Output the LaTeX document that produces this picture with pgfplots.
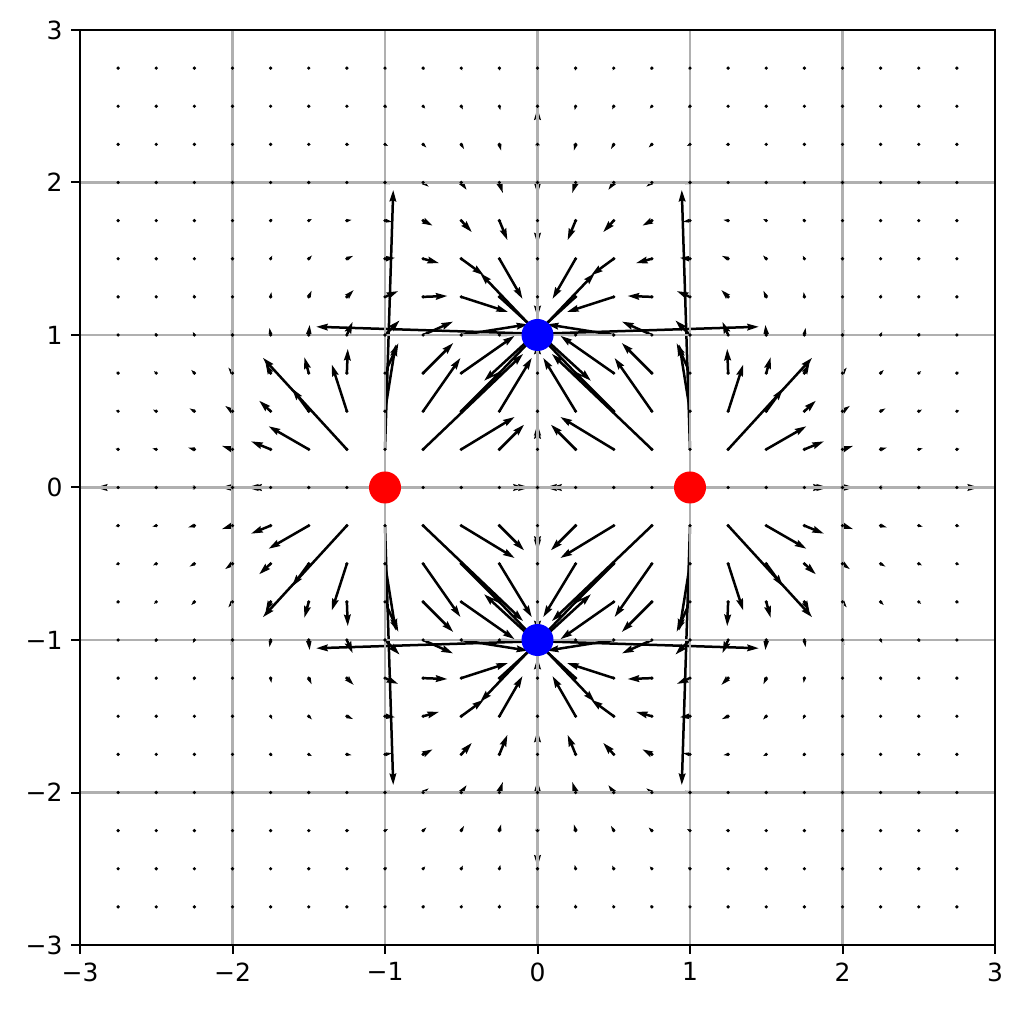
\documentclass[border=0pt]{standalone}
\usepackage{fontspec}
\setmainfont{DejaVu Sans}
\usepackage{pgfplots}
\usepackage{pgfplotstable}
\pgfplotsset{compat=1.18}
\usetikzlibrary{arrows.meta}
\definecolor{gridgray}{HTML}{B0B0B0}

\pgfplotstableread{
x y u v
-2.75 2.75 0.002 0.002
-2.5 2.75 0.003 0.002
-2.25 2.75 0.004 0.002
-2 2.75 0.005 0.001
-1.75 2.75 0.006 0
-1.5 2.75 0.008 -0.002
-1.25 2.75 0.009 -0.005
-1 2.75 0.009 -0.008
-0.75 2.75 0.009 -0.012
-0.5 2.75 0.007 -0.015
-0.25 2.75 0.004 -0.018
0 2.75 0 -0.019
0.25 2.75 -0.004 -0.018
0.5 2.75 -0.007 -0.015
0.75 2.75 -0.009 -0.012
1 2.75 -0.009 -0.008
1.25 2.75 -0.009 -0.005
1.5 2.75 -0.008 -0.002
1.75 2.75 -0.006 0
2 2.75 -0.005 0.001
2.25 2.75 -0.004 0.002
2.5 2.75 -0.003 0.002
2.75 2.75 -0.002 0.002
-2.75 2.5 0.003 0.002
-2.5 2.5 0.003 0.003
-2.25 2.5 0.004 0.003
-2 2.5 0.006 0.002
-1.75 2.5 0.008 0.001
-1.5 2.5 0.010 -0.001
-1.25 2.5 0.012 -0.005
-1 2.5 0.014 -0.010
-0.75 2.5 0.014 -0.016
-0.5 2.5 0.011 -0.022
-0.25 2.5 0.007 -0.027
0 2.5 0 -0.028
0.25 2.5 -0.007 -0.027
0.5 2.5 -0.011 -0.022
0.75 2.5 -0.014 -0.016
1 2.5 -0.014 -0.010
1.25 2.5 -0.012 -0.005
1.5 2.5 -0.010 -0.001
1.75 2.5 -0.008 0.001
2 2.5 -0.006 0.002
2.25 2.5 -0.004 0.003
2.5 2.5 -0.003 0.003
2.75 2.5 -0.003 0.002
-2.75 2.25 0.002 0.004
-2.5 2.25 0.003 0.004
-2.25 2.25 0.005 0.005
-2 2.25 0.007 0.004
-1.75 2.25 0.010 0.003
-1.5 2.25 0.013 0
-1.25 2.25 0.017 -0.004
-1 2.25 0.021 -0.011
-0.75 2.25 0.022 -0.021
-0.5 2.25 0.019 -0.032
-0.25 2.25 0.012 -0.042
0 2.25 0 -0.046
0.25 2.25 -0.012 -0.042
0.5 2.25 -0.019 -0.032
0.75 2.25 -0.022 -0.021
1 2.25 -0.021 -0.011
1.25 2.25 -0.017 -0.004
1.5 2.25 -0.013 0
1.75 2.25 -0.010 0.003
2 2.25 -0.007 0.004
2.25 2.25 -0.005 0.005
2.5 2.25 -0.003 0.004
2.75 2.25 -0.002 0.004
-2.75 2 0.001 0.005
-2.5 2 0.002 0.006
-2.25 2 0.004 0.007
-2 2 0.007 0.007
-1.75 2 0.011 0.007
-1.5 2 0.017 0.004
-1.25 2 0.024 -0.001
-1 2 0.031 -0.012
-0.75 2 0.037 -0.028
-0.5 2 0.036 -0.049
-0.25 2 0.023 -0.070
0 2 0 -0.080
0.25 2 -0.023 -0.070
0.5 2 -0.036 -0.049
0.75 2 -0.037 -0.028
1 2 -0.031 -0.012
1.25 2 -0.024 -0.001
1.5 2 -0.017 0.004
1.75 2 -0.011 0.007
2 2 -0.007 0.007
2.25 2 -0.004 0.007
2.5 2 -0.002 0.006
2.75 2 -0.001 0.005
-2.75 1.75 0 0.006
-2.5 1.75 0.001 0.008
-2.25 1.75 0.003 0.010
-2 1.75 0.007 0.011
-1.75 1.75 0.012 0.012
-1.5 1.75 0.021 0.011
-1.25 1.75 0.032 0.005
-1 1.75 0.047 -0.008
-0.75 1.75 0.062 -0.033
-0.5 1.75 0.070 -0.076
-0.25 1.75 0.053 -0.129
0 1.75 0 -0.157
0.25 1.75 -0.053 -0.129
0.5 1.75 -0.070 -0.076
0.75 1.75 -0.062 -0.033
1 1.75 -0.047 -0.008
1.25 1.75 -0.032 0.005
1.5 1.75 -0.021 0.011
1.75 1.75 -0.012 0.012
2 1.75 -0.007 0.011
2.25 1.75 -0.003 0.010
2.5 1.75 -0.001 0.008
2.75 1.75 0 0.006
-2.75 1.5 -0.002 0.008
-2.5 1.5 -0.001 0.010
-2.25 1.5 0 0.013
-2 1.5 0.004 0.017
-1.75 1.5 0.011 0.021
-1.5 1.5 0.022 0.022
-1.25 1.5 0.041 0.019
-1 1.5 0.067 0.006
-0.75 1.5 0.105 -0.029
-0.5 1.5 0.149 -0.109
-0.25 1.5 0.152 -0.264
0 1.5 0 -0.385
0.25 1.5 -0.152 -0.264
0.5 1.5 -0.149 -0.109
0.75 1.5 -0.105 -0.029
1 1.5 -0.067 0.006
1.25 1.5 -0.041 0.019
1.5 1.5 -0.022 0.022
1.75 1.5 -0.011 0.021
2 1.5 -0.004 0.017
2.25 1.5 0 0.013
2.5 1.5 0.001 0.010
2.75 1.5 0.002 0.008
-2.75 1.25 -0.005 0.009
-2.5 1.25 -0.005 0.012
-2.25 1.25 -0.004 0.017
-2 1.25 -0.001 0.024
-1.75 1.25 0.005 0.032
-1.5 1.25 0.019 0.041
-1.25 1.25 0.045 0.045
-1 1.25 0.087 0.038
-0.75 1.25 0.160 0.006
-0.5 1.25 0.307 -0.099
-0.25 1.25 0.601 -0.551
0 1.25 0 -1.647
0.25 1.25 -0.601 -0.551
0.5 1.25 -0.307 -0.099
0.75 1.25 -0.160 0.006
1 1.25 -0.087 0.038
1.25 1.25 -0.045 0.045
1.5 1.25 -0.019 0.041
1.75 1.25 -0.005 0.032
2 1.25 0.001 0.024
2.25 1.25 0.004 0.017
2.5 1.25 0.005 0.012
2.75 1.25 0.005 0.009
-2.75 1 -0.008 0.009
-2.5 1 -0.010 0.014
-2.25 1 -0.011 0.021
-2 1 -0.012 0.031
-1.75 1 -0.008 0.047
-1.5 1 0.006 0.067
-1.25 1 0.038 0.087
-1 1 0.096 0.096
-0.75 1 0.197 0.088
-0.5 1 0.439 0.070
-0.25 1 1.702 0.054
0.25 1 -1.702 0.054
0.5 1 -0.439 0.070
0.75 1 -0.197 0.088
1 1 -0.096 0.096
1.25 1 -0.038 0.087
1.5 1 -0.006 0.067
1.75 1 0.008 0.047
2 1 0.012 0.031
2.25 1 0.011 0.021
2.5 1 0.010 0.014
2.75 1 0.008 0.009
-2.75 0.75 -0.012 0.009
-2.5 0.75 -0.016 0.014
-2.25 0.75 -0.021 0.022
-2 0.75 -0.028 0.037
-1.75 0.75 -0.033 0.062
-1.5 0.75 -0.029 0.105
-1.25 0.75 0.006 0.160
-1 0.75 0.088 0.197
-0.75 0.75 0.198 0.198
-0.5 0.75 0.350 0.245
-0.25 0.75 0.626 0.656
0 0.75 0 1.737
0.25 0.75 -0.626 0.656
0.5 0.75 -0.350 0.245
0.75 0.75 -0.198 0.198
1 0.75 -0.088 0.197
1.25 0.75 -0.006 0.160
1.5 0.75 0.029 0.105
1.75 0.75 0.033 0.062
2 0.75 0.028 0.037
2.25 0.75 0.021 0.022
2.5 0.75 0.016 0.014
2.75 0.75 0.012 0.009
-2.75 0.5 -0.015 0.007
-2.5 0.5 -0.022 0.011
-2.25 0.5 -0.032 0.019
-2 0.5 -0.049 0.036
-1.75 0.5 -0.076 0.070
-1.5 0.5 -0.109 0.149
-1.25 0.5 -0.099 0.307
-1 0.5 0.070 0.439
-0.75 0.5 0.245 0.350
-0.5 0.5 0.272 0.272
-0.25 0.5 0.213 0.351
0 0.5 0 0.451
0.25 0.5 -0.213 0.351
0.5 0.5 -0.272 0.272
0.75 0.5 -0.245 0.350
1 0.5 -0.070 0.439
1.25 0.5 0.099 0.307
1.5 0.5 0.109 0.149
1.75 0.5 0.076 0.070
2 0.5 0.049 0.036
2.25 0.5 0.032 0.019
2.5 0.5 0.022 0.011
2.75 0.5 0.015 0.007
-2.75 0.25 -0.018 0.004
-2.5 0.25 -0.027 0.007
-2.25 0.25 -0.042 0.012
-2 0.25 -0.070 0.023
-1.75 0.25 -0.129 0.053
-1.5 0.25 -0.264 0.152
-1.25 0.25 -0.551 0.601
-1 0.25 0.054 1.702
-0.75 0.25 0.656 0.626
-0.5 0.25 0.351 0.213
-0.25 0.25 0.163 0.163
0 0.25 0 0.168
0.25 0.25 -0.163 0.163
0.5 0.25 -0.351 0.213
0.75 0.25 -0.656 0.626
1 0.25 -0.054 1.702
1.25 0.25 0.551 0.601
1.5 0.25 0.264 0.152
1.75 0.25 0.129 0.053
2 0.25 0.070 0.023
2.25 0.25 0.042 0.012
2.5 0.25 0.027 0.007
2.75 0.25 0.018 0.004
-2.75 0 -0.019 0
-2.5 0 -0.028 0
-2.25 0 -0.046 0
-2 0 -0.080 0
-1.75 0 -0.157 0
-1.5 0 -0.385 0
-1.25 0 -1.647 0
-0.75 0 1.737 0
-0.5 0 0.451 0
-0.25 0 0.168 0
0.25 0 -0.168 0
0.5 0 -0.451 0
0.75 0 -1.737 0
1.25 0 1.647 0
1.5 0 0.385 0
1.75 0 0.157 0
2 0 0.080 0
2.25 0 0.046 0
2.5 0 0.028 0
2.75 0 0.019 0
-2.75 -0.25 -0.018 -0.004
-2.5 -0.25 -0.027 -0.007
-2.25 -0.25 -0.042 -0.012
-2 -0.25 -0.070 -0.023
-1.75 -0.25 -0.129 -0.053
-1.5 -0.25 -0.264 -0.152
-1.25 -0.25 -0.551 -0.601
-1 -0.25 0.054 -1.702
-0.75 -0.25 0.656 -0.626
-0.5 -0.25 0.351 -0.213
-0.25 -0.25 0.163 -0.163
0 -0.25 0 -0.168
0.25 -0.25 -0.163 -0.163
0.5 -0.25 -0.351 -0.213
0.75 -0.25 -0.656 -0.626
1 -0.25 -0.054 -1.702
1.25 -0.25 0.551 -0.601
1.5 -0.25 0.264 -0.152
1.75 -0.25 0.129 -0.053
2 -0.25 0.070 -0.023
2.25 -0.25 0.042 -0.012
2.5 -0.25 0.027 -0.007
2.75 -0.25 0.018 -0.004
-2.75 -0.5 -0.015 -0.007
-2.5 -0.5 -0.022 -0.011
-2.25 -0.5 -0.032 -0.019
-2 -0.5 -0.049 -0.036
-1.75 -0.5 -0.076 -0.070
-1.5 -0.5 -0.109 -0.149
-1.25 -0.5 -0.099 -0.307
-1 -0.5 0.070 -0.439
-0.75 -0.5 0.245 -0.350
-0.5 -0.5 0.272 -0.272
-0.25 -0.5 0.213 -0.351
0 -0.5 0 -0.451
0.25 -0.5 -0.213 -0.351
0.5 -0.5 -0.272 -0.272
0.75 -0.5 -0.245 -0.350
1 -0.5 -0.070 -0.439
1.25 -0.5 0.099 -0.307
1.5 -0.5 0.109 -0.149
1.75 -0.5 0.076 -0.070
2 -0.5 0.049 -0.036
2.25 -0.5 0.032 -0.019
2.5 -0.5 0.022 -0.011
2.75 -0.5 0.015 -0.007
-2.75 -0.75 -0.012 -0.009
-2.5 -0.75 -0.016 -0.014
-2.25 -0.75 -0.021 -0.022
-2 -0.75 -0.028 -0.037
-1.75 -0.75 -0.033 -0.062
-1.5 -0.75 -0.029 -0.105
-1.25 -0.75 0.006 -0.160
-1 -0.75 0.088 -0.197
-0.75 -0.75 0.198 -0.198
-0.5 -0.75 0.350 -0.245
-0.25 -0.75 0.626 -0.656
0 -0.75 0 -1.737
0.25 -0.75 -0.626 -0.656
0.5 -0.75 -0.350 -0.245
0.75 -0.75 -0.198 -0.198
1 -0.75 -0.088 -0.197
1.25 -0.75 -0.006 -0.160
1.5 -0.75 0.029 -0.105
1.75 -0.75 0.033 -0.062
2 -0.75 0.028 -0.037
2.25 -0.75 0.021 -0.022
2.5 -0.75 0.016 -0.014
2.75 -0.75 0.012 -0.009
-2.75 -1 -0.008 -0.009
-2.5 -1 -0.010 -0.014
-2.25 -1 -0.011 -0.021
-2 -1 -0.012 -0.031
-1.75 -1 -0.008 -0.047
-1.5 -1 0.006 -0.067
-1.25 -1 0.038 -0.087
-1 -1 0.096 -0.096
-0.75 -1 0.197 -0.088
-0.5 -1 0.439 -0.070
-0.25 -1 1.702 -0.054
0.25 -1 -1.702 -0.054
0.5 -1 -0.439 -0.070
0.75 -1 -0.197 -0.088
1 -1 -0.096 -0.096
1.25 -1 -0.038 -0.087
1.5 -1 -0.006 -0.067
1.75 -1 0.008 -0.047
2 -1 0.012 -0.031
2.25 -1 0.011 -0.021
2.5 -1 0.010 -0.014
2.75 -1 0.008 -0.009
-2.75 -1.25 -0.005 -0.009
-2.5 -1.25 -0.005 -0.012
-2.25 -1.25 -0.004 -0.017
-2 -1.25 -0.001 -0.024
-1.75 -1.25 0.005 -0.032
-1.5 -1.25 0.019 -0.041
-1.25 -1.25 0.045 -0.045
-1 -1.25 0.087 -0.038
-0.75 -1.25 0.160 -0.006
-0.5 -1.25 0.307 0.099
-0.25 -1.25 0.601 0.551
0 -1.25 0 1.647
0.25 -1.25 -0.601 0.551
0.5 -1.25 -0.307 0.099
0.75 -1.25 -0.160 -0.006
1 -1.25 -0.087 -0.038
1.25 -1.25 -0.045 -0.045
1.5 -1.25 -0.019 -0.041
1.75 -1.25 -0.005 -0.032
2 -1.25 0.001 -0.024
2.25 -1.25 0.004 -0.017
2.5 -1.25 0.005 -0.012
2.75 -1.25 0.005 -0.009
-2.75 -1.5 -0.002 -0.008
-2.5 -1.5 -0.001 -0.010
-2.25 -1.5 0 -0.013
-2 -1.5 0.004 -0.017
-1.75 -1.5 0.011 -0.021
-1.5 -1.5 0.022 -0.022
-1.25 -1.5 0.041 -0.019
-1 -1.5 0.067 -0.006
-0.75 -1.5 0.105 0.029
-0.5 -1.5 0.149 0.109
-0.25 -1.5 0.152 0.264
0 -1.5 0 0.385
0.25 -1.5 -0.152 0.264
0.5 -1.5 -0.149 0.109
0.75 -1.5 -0.105 0.029
1 -1.5 -0.067 -0.006
1.25 -1.5 -0.041 -0.019
1.5 -1.5 -0.022 -0.022
1.75 -1.5 -0.011 -0.021
2 -1.5 -0.004 -0.017
2.25 -1.5 0 -0.013
2.5 -1.5 0.001 -0.010
2.75 -1.5 0.002 -0.008
-2.75 -1.75 0 -0.006
-2.5 -1.75 0.001 -0.008
-2.25 -1.75 0.003 -0.010
-2 -1.75 0.007 -0.011
-1.75 -1.75 0.012 -0.012
-1.5 -1.75 0.021 -0.011
-1.25 -1.75 0.032 -0.005
-1 -1.75 0.047 0.008
-0.75 -1.75 0.062 0.033
-0.5 -1.75 0.070 0.076
-0.25 -1.75 0.053 0.129
0 -1.75 0 0.157
0.25 -1.75 -0.053 0.129
0.5 -1.75 -0.070 0.076
0.75 -1.75 -0.062 0.033
1 -1.75 -0.047 0.008
1.25 -1.75 -0.032 -0.005
1.5 -1.75 -0.021 -0.011
1.75 -1.75 -0.012 -0.012
2 -1.75 -0.007 -0.011
2.25 -1.75 -0.003 -0.010
2.5 -1.75 -0.001 -0.008
2.75 -1.75 0 -0.006
-2.75 -2 0.001 -0.005
-2.5 -2 0.002 -0.006
-2.25 -2 0.004 -0.007
-2 -2 0.007 -0.007
-1.75 -2 0.011 -0.007
-1.5 -2 0.017 -0.004
-1.25 -2 0.024 0.001
-1 -2 0.031 0.012
-0.75 -2 0.037 0.028
-0.5 -2 0.036 0.049
-0.25 -2 0.023 0.070
0 -2 0 0.080
0.25 -2 -0.023 0.070
0.5 -2 -0.036 0.049
0.75 -2 -0.037 0.028
1 -2 -0.031 0.012
1.25 -2 -0.024 0.001
1.5 -2 -0.017 -0.004
1.75 -2 -0.011 -0.007
2 -2 -0.007 -0.007
2.25 -2 -0.004 -0.007
2.5 -2 -0.002 -0.006
2.75 -2 -0.001 -0.005
-2.75 -2.25 0.002 -0.004
-2.5 -2.25 0.003 -0.004
-2.25 -2.25 0.005 -0.005
-2 -2.25 0.007 -0.004
-1.75 -2.25 0.010 -0.003
-1.5 -2.25 0.013 0
-1.25 -2.25 0.017 0.004
-1 -2.25 0.021 0.011
-0.75 -2.25 0.022 0.021
-0.5 -2.25 0.019 0.032
-0.25 -2.25 0.012 0.042
0 -2.25 0 0.046
0.25 -2.25 -0.012 0.042
0.5 -2.25 -0.019 0.032
0.75 -2.25 -0.022 0.021
1 -2.25 -0.021 0.011
1.25 -2.25 -0.017 0.004
1.5 -2.25 -0.013 0
1.75 -2.25 -0.010 -0.003
2 -2.25 -0.007 -0.004
2.25 -2.25 -0.005 -0.005
2.5 -2.25 -0.003 -0.004
2.75 -2.25 -0.002 -0.004
-2.75 -2.5 0.003 -0.002
-2.5 -2.5 0.003 -0.003
-2.25 -2.5 0.004 -0.003
-2 -2.5 0.006 -0.002
-1.75 -2.5 0.008 -0.001
-1.5 -2.5 0.010 0.001
-1.25 -2.5 0.012 0.005
-1 -2.5 0.014 0.010
-0.75 -2.5 0.014 0.016
-0.5 -2.5 0.011 0.022
-0.25 -2.5 0.007 0.027
0 -2.5 0 0.028
0.25 -2.5 -0.007 0.027
0.5 -2.5 -0.011 0.022
0.75 -2.5 -0.014 0.016
1 -2.5 -0.014 0.010
1.25 -2.5 -0.012 0.005
1.5 -2.5 -0.010 0.001
1.75 -2.5 -0.008 -0.001
2 -2.5 -0.006 -0.002
2.25 -2.5 -0.004 -0.003
2.5 -2.5 -0.003 -0.003
2.75 -2.5 -0.003 -0.002
-2.75 -2.75 0.002 -0.002
-2.5 -2.75 0.003 -0.002
-2.25 -2.75 0.004 -0.002
-2 -2.75 0.005 -0.001
-1.75 -2.75 0.006 0
-1.5 -2.75 0.008 0.002
-1.25 -2.75 0.009 0.005
-1 -2.75 0.009 0.008
-0.75 -2.75 0.009 0.012
-0.5 -2.75 0.007 0.015
-0.25 -2.75 0.004 0.018
0 -2.75 0 0.019
0.25 -2.75 -0.004 0.018
0.5 -2.75 -0.007 0.015
0.75 -2.75 -0.009 0.012
1 -2.75 -0.009 0.008
1.25 -2.75 -0.009 0.005
1.5 -2.75 -0.008 0.002
1.75 -2.75 -0.006 0
2 -2.75 -0.005 -0.001
2.25 -2.75 -0.004 -0.002
2.5 -2.75 -0.003 -0.002
2.75 -2.75 -0.002 -0.002
}\fielddata

\begin{document}
\begin{tikzpicture}
\begin{axis}[
  scale only axis, width=366pt, height=366pt,
  xmin=-3, xmax=3, ymin=-3, ymax=3,
  xtick={-3,-2,-1,0,1,2,3}, ytick={-3,-2,-1,0,1,2,3},
  xticklabels={−3,−2,−1,0,1,2,3},
  yticklabels={−3,−2,−1,0,1,2,3},
  xtick pos=bottom, ytick pos=left,
  tick label style={font=\fontsize{10}{12}\selectfont},
  grid=major,
  grid style={draw=gridgray, line width=1.1pt},
  major grid style={draw=gridgray, line width=1.1pt},
  axis line style={line width=0.8pt},
  tick style={black, line width=0.8pt},
  tick align=outside, major tick length=3.5pt,
  axis on top,
]
\addplot[only marks, mark=*, mark size=0.45pt, black] table[x=x, y=y] {\fielddata};
\addplot[only marks, mark=*, mark size=0.45pt, black] coordinates {(0,0)};
\addplot[black, no markers,
  point meta={min(1,veclen(\thisrow{u},\thisrow{v})/0.0787)},
  point meta min=0, point meta max=1,
  quiver={u=\thisrow{u}, v=\thisrow{v},
    every arrow/.append style={
      line width={1.0pt*\pgfplotspointmetatransformed/1000},
      -{Stealth[length=0pt 4.6, width=0pt 2.6, inset=0pt 0.5]}}}
] table[x=x, y=y] {\fielddata};
\addplot[only marks, mark=*, mark size=6.2pt, color=red, mark options={draw=none, fill=red}] coordinates {(-1,0) (1,0)};
\addplot[only marks, mark=*, mark size=6.2pt, color=blue, mark options={draw=none, fill=blue}] coordinates {(0,-1) (0,1)};
\end{axis}
\pgfresetboundingbox
\path ([xshift=-32pt,yshift=-26.4pt]current axis.south west) rectangle ([xshift=11.6pt,yshift=12pt]current axis.north east);
\end{tikzpicture}
\end{document}
